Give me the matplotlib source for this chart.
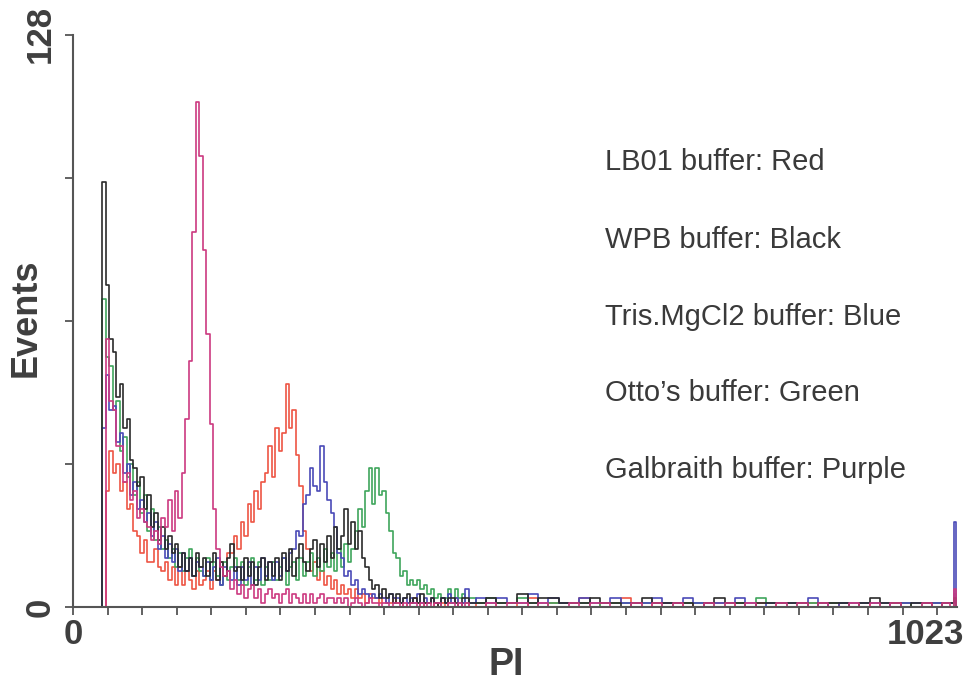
import matplotlib
matplotlib.use('Agg')
import matplotlib.pyplot as plt

# ---------------- data (channel positions and event counts) -------------
channels_main = list(range(32, 464, 4))      # 108 channels
channels_tail = list(range(472, 1020, 12))   # 46 channels
channels_end = [1018, 1021, 1023]
channels = channels_main + channels_tail + channels_end

wpb_black = [
    0, 95, 72, 60, 57, 47, 50, 40, 42, 33,
    31, 27, 29, 22, 25, 18, 21, 15, 18, 13,
    16, 12, 14, 9, 12, 8, 11, 7, 12, 9,
    11, 7, 10, 12, 6, 10, 7, 11, 14, 8,
    9, 6, 11, 7, 10, 5, 9, 11, 6, 10,
    7, 11, 6, 12, 8, 13, 7, 11, 14, 10,
    8, 13, 15, 9, 14, 10, 16, 11, 18, 13,
    16, 22, 14, 19, 13, 17, 11, 9, 6, 4,
    5, 2, 4, 2, 3, 1, 3, 1, 2, 3,
    1, 2, 1, 3, 1, 1, 2, 1, 0, 2,
    1, 2, 2, 1, 0, 2, 2, 1,
    1, 2, 1, 1, 3, 1, 2, 2, 1, 1,
    1, 2, 1, 1, 0, 1, 2, 1, 1, 1,
    1, 0, 1, 2, 1, 1, 0, 1, 1, 1,
    1, 1, 0, 1, 1, 1, 0, 1, 2, 1,
    1, 0, 1, 1, 0, 1,
    1, 2, 0,
]

otto_green = [
    0, 69, 56, 54, 44, 46, 35, 38, 29, 32,
    25, 28, 21, 25, 17, 22, 15, 18, 13, 15,
    11, 13, 9, 12, 8, 11, 13, 7, 11, 8,
    7, 11, 6, 10, 7, 5, 10, 6, 9, 11,
    6, 10, 5, 9, 11, 6, 10, 5, 9, 6,
    10, 6, 9, 11, 5, 9, 10, 6, 11, 7,
    10, 12, 7, 11, 8, 13, 9, 12, 8, 13,
    9, 14, 10, 13, 17, 22, 18, 26, 31, 23,
    31, 25, 26, 21, 17, 12, 11, 7, 8, 5,
    6, 5, 6, 4, 5, 3, 4, 2, 3, 2,
    2, 4, 1, 4, 2, 3, 1, 2,
    1, 2, 1, 1, 2, 1, 0, 1, 1, 1,
    1, 0, 1, 1, 1, 0, 1, 1, 0, 1,
    1, 1, 1, 0, 1, 1, 0, 2, 1, 1,
    0, 1, 1, 0, 1, 1, 0, 1, 1, 0,
    1, 1, 0, 1, 1, 0,
    0, 2, 0,
]

tris_blue = [
    0, 40, 52, 44, 45, 37, 39, 30, 32, 25,
    28, 22, 24, 19, 21, 16, 19, 13, 16, 11,
    14, 10, 13, 8, 12, 8, 11, 7, 10, 9,
    7, 10, 6, 9, 11, 5, 9, 8, 6, 9,
    5, 9, 6, 10, 5, 9, 6, 11, 7, 10,
    6, 10, 7, 11, 8, 12, 13, 17, 16, 23,
    25, 31, 27, 26, 36, 28, 24, 21, 18, 12,
    11, 7, 8, 5, 6, 3, 4, 3, 2, 3,
    2, 3, 2, 1, 3, 2, 2, 1, 2, 1,
    2, 1, 3, 1, 2, 1, 2, 1, 1, 2,
    1, 3, 1, 2, 1, 1, 4, 1,
    2, 1, 2, 1, 1, 3, 1, 2, 1, 1,
    2, 1, 1, 2, 1, 1, 1, 2, 1, 1,
    2, 1, 1, 1, 1, 2, 1, 0, 1, 1,
    1, 1, 2, 1, 0, 1, 1, 1, 1, 1,
    0, 1, 1, 1, 1, 1,
    1, 19, 0,
]

lb01_red = [
    0, 0, 26, 35, 30, 32, 26, 28, 22, 23,
    17, 16, 12, 15, 10, 10, 13, 9, 8, 10,
    6, 9, 5, 9, 5, 8, 6, 4, 8, 5,
    6, 8, 4, 8, 6, 10, 7, 12, 12, 16,
    13, 19, 16, 23, 19, 26, 22, 28, 30, 36,
    29, 40, 35, 39, 50, 40, 44, 34, 27, 17,
    13, 8, 10, 6, 8, 5, 7, 4, 6, 3,
    5, 3, 4, 2, 4, 2, 3, 1, 3, 2,
    2, 1, 2, 1, 1, 2, 1, 1, 0, 1,
    1, 2, 1, 0, 1, 1, 2, 0, 1, 1,
    0, 1, 1, 2, 0, 1, 1, 0,
    1, 0, 1, 1, 0, 2, 0, 1, 1, 1,
    2, 0, 1, 1, 2, 1, 0, 1, 1, 0,
    1, 0, 1, 1, 0, 1, 0, 1, 1, 0,
    0, 1, 1, 0, 1, 0, 1, 0, 1, 0,
    1, 1, 0, 0, 1, 0,
    0, 3, 0,
]

galbraith_purple = [
    0, 0, 60, 46, 44, 36, 36, 28, 30, 24,
    26, 20, 22, 19, 18, 15, 17, 14, 20, 18,
    24, 17, 26, 20, 30, 42, 55, 84, 113, 101,
    80, 61, 41, 22, 13, 9, 7, 8, 4, 6,
    3, 5, 2, 4, 5, 2, 4, 1, 3, 4,
    2, 3, 1, 3, 4, 1, 3, 2, 1, 3,
    1, 3, 1, 2, 3, 1, 2, 2, 1, 2,
    1, 2, 0, 1, 2, 1, 0, 1, 2, 1,
    1, 0, 1, 1, 0, 1, 1, 0, 1, 0,
    1, 1, 0, 1, 0, 1, 0, 1, 1, 0,
    0, 1, 1, 0, 1, 0, 1, 0,
    0, 1, 0, 1, 1, 0, 1, 0, 0, 1,
    0, 1, 1, 0, 0, 1, 0, 1, 0, 1,
    0, 0, 1, 0, 1, 0, 1, 0, 0, 1,
    0, 1, 0, 1, 0, 0, 1, 0, 1, 0,
    1, 0, 0, 1, 0, 1,
    0, 4, 0,
]

legend_lines = ["LB01 buffer: Red", "WPB buffer: Black", "Tris.MgCl2 buffer: Blue",
                "Otto\u2019s buffer: Green", "Galbraith buffer: Purple"]

series = [
    (lb01_red, '#ee5544'),
    (otto_green, '#3fa65c'),
    (tris_blue, '#4a4ab8'),
    (wpb_black, '#2b2b2b'),
    (galbraith_purple, '#cc3a80'),
]

for vals, _ in series:
    assert len(vals) == len(channels), (len(vals), len(channels))

# ---------------- figure ----------------
W, H = 964, 686
fig = plt.figure(figsize=(W / 100, H / 100), dpi=100)
ax = fig.add_axes([73 / W, 1 - 607 / H, (957 - 73) / W, (607 - 35) / H])

for vals, col in series:
    ax.plot(channels, vals, drawstyle='steps-mid', color=col, lw=1.2)

ax.set_xlim(0, 1023)
ax.set_ylim(0, 128)
for s in ['top', 'right']:
    ax.spines[s].set_visible(False)
for s in ['left', 'bottom']:
    ax.spines[s].set_color('#555555')
    ax.spines[s].set_linewidth(1.5)

ax.set_xticks(list(range(0, 1024, 40)))
ax.set_xticklabels([])
ax.set_yticks([0, 32, 64, 96, 128])
ax.set_yticklabels([])
ax.tick_params(axis='both', direction='out', length=6, width=1.3, color='#555555')

bold_font = ['Liberation Sans', 'DejaVu Sans']
tc = '#3f3f3f'

def ftext(x, y, s, **kw):
    fig.text(x / W, 1 - y / H, s, **kw)

ftext(40, 34, '128', rotation=90, ha='center', va='center', fontsize=25,
      fontweight='bold', family=bold_font, color=tc)
ftext(40, 607, '0', rotation=90, ha='center', va='center', fontsize=25,
      fontweight='bold', family=bold_font, color=tc)
ftext(73, 634, '0', ha='center', va='center', fontsize=25,
      fontweight='bold', family=bold_font, color=tc)
ftext(925, 634, '1023', ha='center', va='center', fontsize=25,
      fontweight='bold', family=bold_font, color=tc)
ftext(506, 665, 'PI', ha='center', va='center', fontsize=27,
      fontweight='bold', family=bold_font, color=tc)
ftext(26, 318, 'Events', rotation=90, ha='center', va='center', fontsize=26,
      fontweight='bold', family=bold_font, color=tc)

legend_y = [162, 240, 317, 393, 470]
for yy, s in zip(legend_y, legend_lines):
    ftext(605, yy, s, ha='left', va='center', fontsize=21,
          family=['Liberation Sans', 'DejaVu Sans'], color='#3a3a3a')

fig.savefig('out.png', dpi=100)
